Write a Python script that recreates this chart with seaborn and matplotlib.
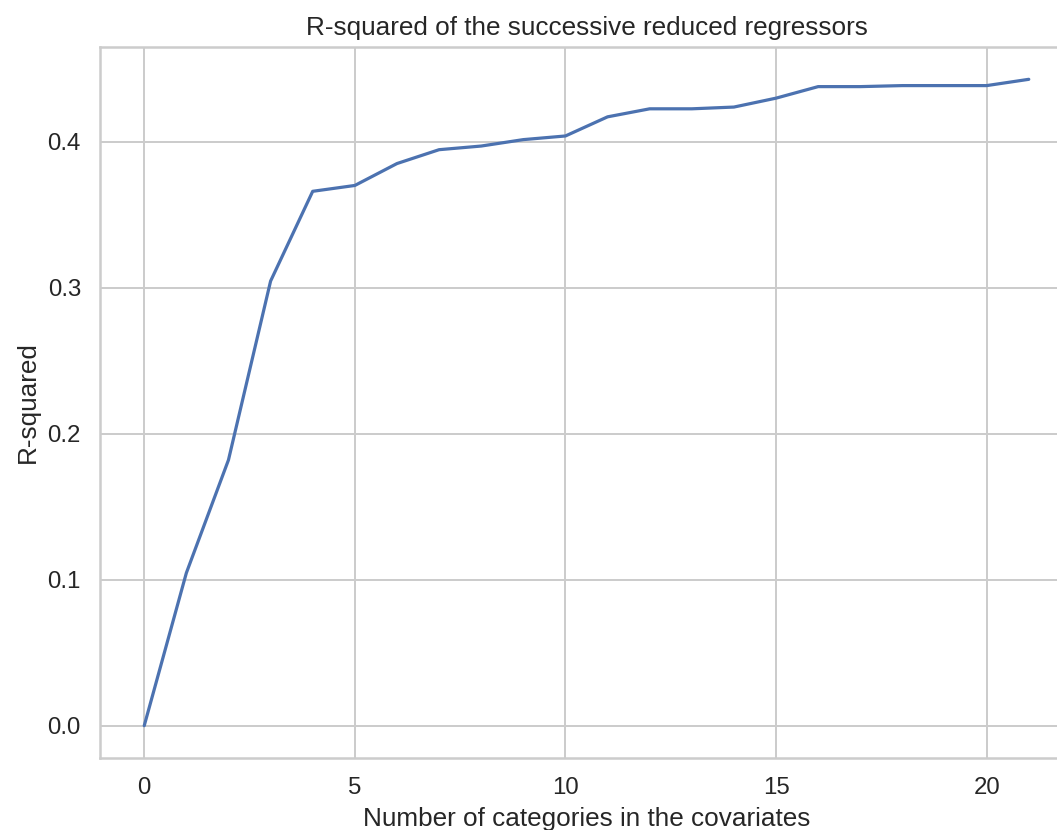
import numpy as np
import pandas as pd
import matplotlib
matplotlib.use("Agg")
import matplotlib.pyplot as plt
import seaborn as sns

n_categories = list(range(22))
r_squared = [0.0, 0.1046, 0.182, 0.3045, 0.366, 0.370, 0.385, 0.3945, 0.397,
             0.4014, 0.4039, 0.417, 0.4225, 0.4225, 0.4237, 0.4298, 0.4377,
             0.4377, 0.4384, 0.4384, 0.4384, 0.4427]

sns.set_theme(style="whitegrid", context="notebook", font_scale=1.09)
plt.rcParams['font.family'] = ['Liberation Sans', 'DejaVu Sans']

df = pd.DataFrame({"n": n_categories, "r2": r_squared})

fig = plt.figure(figsize=(1057/144, 830/144), dpi=144)
ax = fig.add_axes([100/1057, 72/830, 973/1057, 711/830])
sns.lineplot(data=df, x="n", y="r2", ax=ax, linewidth=1.6)
ax.set_title("R-squared of the successive reduced regressors")
ax.set_xlabel("Number of categories in the covariates")
ax.set_ylabel("R-squared")
ax.set_xticks([0, 5, 10, 15, 20])
ax.set_yticks([0.0, 0.1, 0.2, 0.3, 0.4])
fig.savefig("out.png", dpi=144)
